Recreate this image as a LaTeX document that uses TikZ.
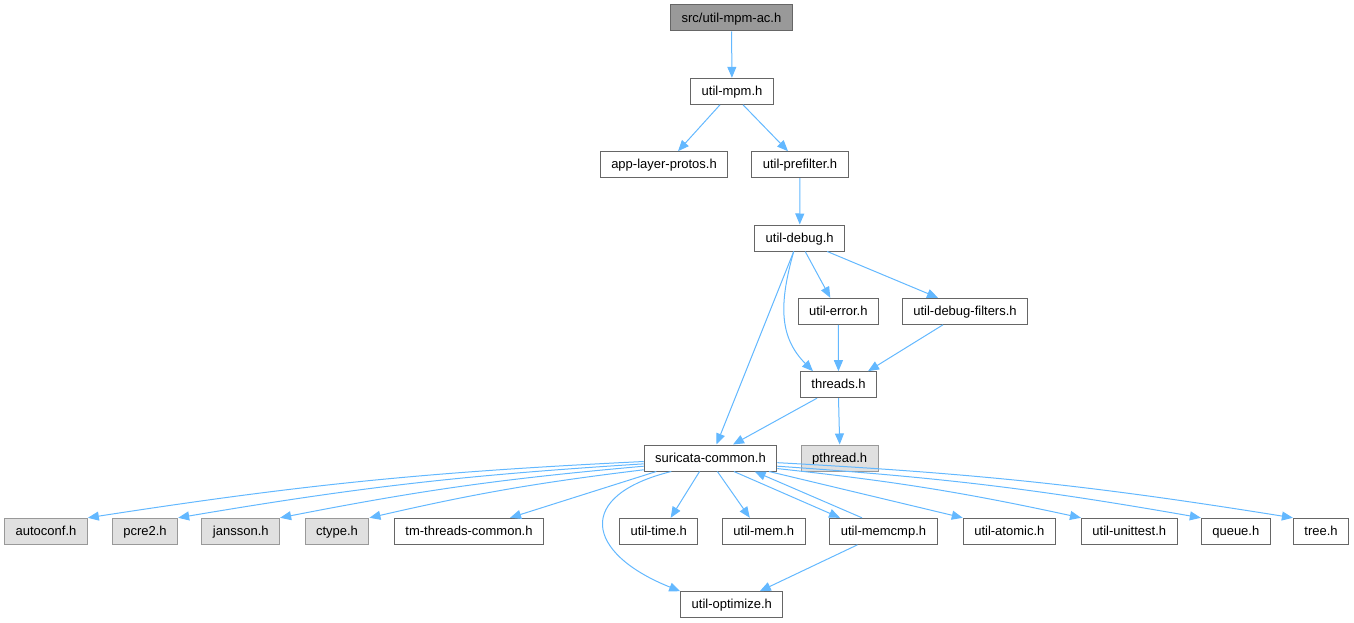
\documentclass[tikz,border=0pt]{standalone}
\usepackage{fontspec}
\setmainfont{Liberation Sans}
\usetikzlibrary{arrows.meta}
\definecolor{edgeblue}{HTML}{63B8FF}
\definecolor{boxline}{HTML}{666666}
\definecolor{extline}{HTML}{999999}
\definecolor{extfill}{HTML}{E0E0E0}
\definecolor{rootfill}{HTML}{999999}
\tikzset{
	file/.style={draw=boxline,fill=white,line width=1pt,inner xsep=11pt,inner ysep=0pt,minimum height=26pt,text height=11pt,text depth=2.7pt,font=\fontsize{13}{15}\selectfont},
	sysfile/.style={file,draw=extline,fill=extfill},
	topfile/.style={file,fill=rootfill},
	dep/.style={draw=edgeblue,line width=1pt,-{Triangle[length=11pt,width=9pt]}}
}
\begin{document}
\begin{tikzpicture}[x=1pt,y=1pt]
		\useasboundingbox (0,0) rectangle (1354,-623);
		\node[topfile] (ac) at (731.5,-18) {src/util-mpm-ac.h};
		\node[file] (mpm) at (732,-91.3) {util-mpm.h};
		\node[file] (alp) at (664,-164.7) {app-layer-protos.h};
		\node[file] (pref) at (800,-164.7) {util-prefilter.h};
		\node[file] (dbg) at (799.7,-238) {util-debug.h};
		\node[file] (err) at (838.3,-311.3) {util-error.h};
		\node[file] (dbgf) at (965,-311.3) {util-debug-filters.h};
		\node[file] (thr) at (838.5,-384.7) {threads.h};
		\node[file] (sc) at (710.5,-458) {suricata-common.h};
		\node[sysfile] (pth) at (839.7,-458) {pthread.h};
		\node[sysfile] (autoconf) at (46,-531.3) {autoconf.h};
		\node[sysfile] (pcre) at (145,-531.3) {pcre2.h};
		\node[sysfile] (jansson) at (240.8,-531.3) {jansson.h};
		\node[sysfile] (ctype) at (337,-531.3) {ctype.h};
		\node[file] (tmtc) at (469,-531.3) {tm-threads-common.h};
		\node[file] (time) at (658.7,-531.3) {util-time.h};
		\node[file] (mem) at (763.8,-531.3) {util-mem.h};
		\node[file] (memcmp) at (883.5,-531.3) {util-memcmp.h};
		\node[file] (atomic) at (1009.3,-531.3) {util-atomic.h};
		\node[file] (unittest) at (1129.3,-531.3) {util-unittest.h};
		\node[file] (queue) at (1235.8,-531.3) {queue.h};
		\node[file] (tree) at (1321,-531.3) {tree.h};
		\node[file] (opt) at (731.8,-604.7) {util-optimize.h};
		\draw[dep] (ac)--(mpm);
		\draw[dep] ([xshift=-12pt]mpm.south)--([xshift=14pt]alp.north);
		\draw[dep] ([xshift=11pt]mpm.south)--([xshift=-12pt]pref.north);
		\draw[dep] (pref)--(dbg);
		\draw[dep] ([xshift=-6pt]dbg.south)--([xshift=6pt]sc.north);
		\draw[dep] ([xshift=-6pt]dbg.south) .. controls +(-14,-50) and +(-35,35) .. ([xshift=-25.5pt]thr.north);
		\draw[dep] ([xshift=5.5pt]dbg.south)--([xshift=-8pt]err.north);
		\draw[dep] ([xshift=27.5pt]dbg.south)--([xshift=-27pt]dbgf.north);
		\draw[dep] (err)--(thr);
		\draw[dep] ([xshift=-22pt]dbgf.south)--([xshift=29.5pt]thr.north);
		\draw[dep] ([xshift=-21.5pt]thr.south)--([xshift=22.5pt]sc.north);
		\draw[dep] (thr.south)--(pth.north);
		\draw[dep] (sc.183) to[bend right=3] (autoconf.north east);
		\draw[dep] (sc.185) to[bend right=3] (pcre.north east);
		\draw[dep] (sc.187) to[bend right=3] (jansson.north east);
		\draw[dep] (sc.190) to[bend right=3] (ctype.north east);
		\draw[dep] (sc.194)--([xshift=41pt]tmtc.north);
		\draw[dep] (sc.199) .. controls +(-97,-24) and +(-95,38) .. (opt.north west);
		\draw[dep] (sc.231)--([xshift=12pt]time.north);
		\draw[dep] (sc.297)--([xshift=-14pt]mem.north);
		\draw[dep] (sc.330)--([xshift=-43.5pt]memcmp.north);
		\draw[dep] ([xshift=-21.5pt]memcmp.north)--(sc.343);
		\draw[dep] (sc.347)--(atomic.north west);
		\draw[dep] (sc.351) to[bend left=3] (unittest.north west);
		\draw[dep] (sc.353) to[bend left=3] (queue.north west);
		\draw[dep] (sc.356) to[bend left=3] (tree.north west);
		\draw[dep] ([xshift=-26pt]memcmp.south)--([xshift=28pt]opt.north);
	\end{tikzpicture}
\end{document}
